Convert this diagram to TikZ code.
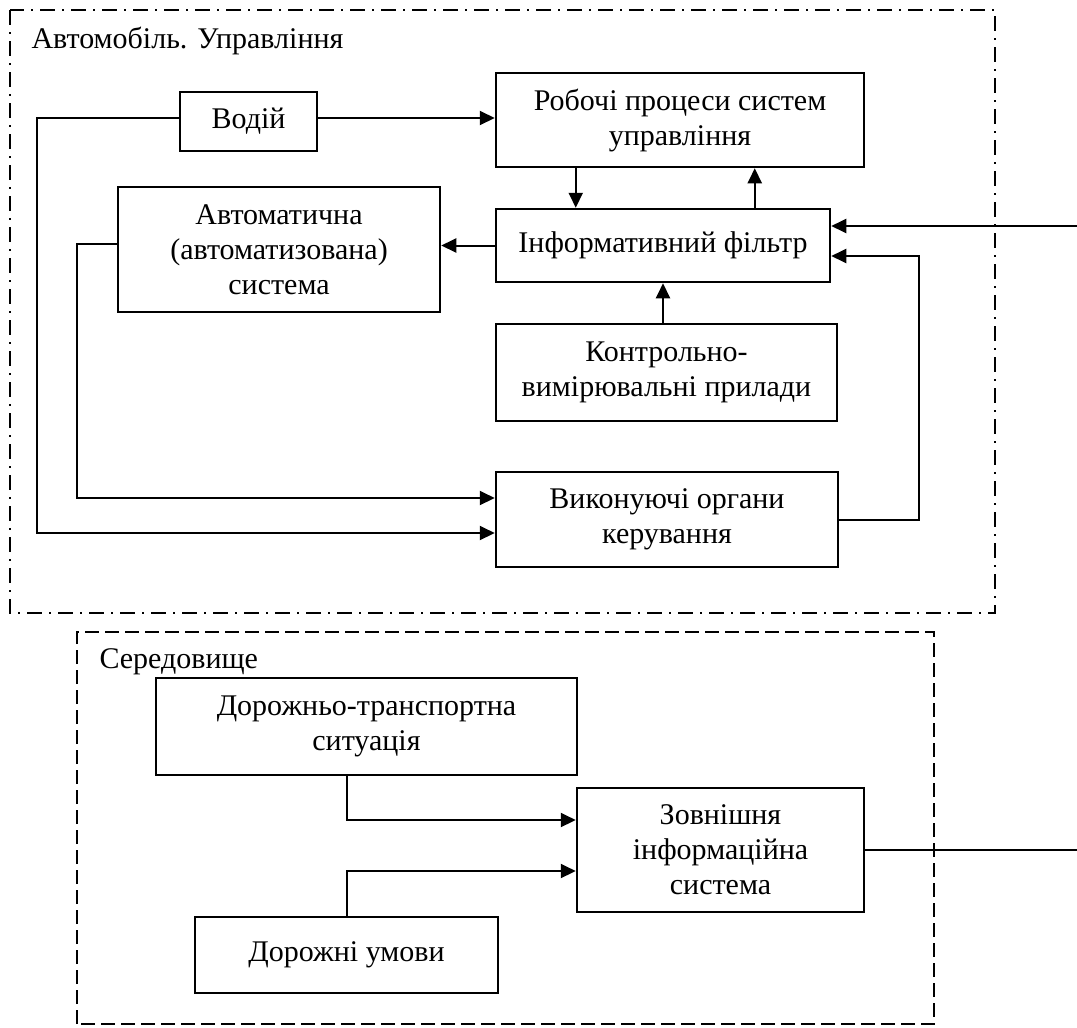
\documentclass[tikz,border=0pt]{standalone}
\usepackage{fontspec}
\setmainfont{Liberation Serif}
\usetikzlibrary{arrows.meta,calc}
\begin{document}
\begin{tikzpicture}[x=0.4pt, y=-0.4pt, font=\fontsize{12}{14}\selectfont, line join=miter,
    blk/.style={draw, line width=1pt, align=center, inner sep=0pt},
    arr/.style={line width=0.8pt, -{Triangle[length=6pt, width=5.6pt]}},
    lin/.style={line width=0.8pt},
    dashdot frame/.style={line width=1pt, dash pattern=on 6pt off 2.8pt on 0.8pt off 2.8pt},
    dash frame/.style={line width=1pt, dash pattern=on 5.6pt off 2.4pt}]
  \useasboundingbox (0,0) rectangle (1077,1027);
  % frames
  \draw[dashdot frame] (10,10) rectangle (995,613);
  \node[anchor=base west, inner sep=0pt] (auto) at (31,48) {Автомобіль. Управління};
  \draw[dash frame] (77,1024) -- (77,632) -- (934,632) -- (934,1024) -- cycle;
  \node[anchor=base west, inner sep=0pt] (sered) at (99,668) {Середовище};
  % blocks
  \node[blk, minimum width=54.8pt, minimum height=23.6pt] (vodii) at (248.5,121.5) {Водій};
  \node[blk, minimum width=147.2pt, minimum height=37.6pt] (robochi) at (680,120) {Робочі процеси систем\\управління};
  \node[blk, minimum width=133.6pt, minimum height=29.2pt] (filtr) at (663,245.5) {Інформативний фільтр};
  \node[blk, minimum width=128.8pt, minimum height=50pt] (avto) at (279,249.5) {Автоматична\\(автоматизована)\\система};
  \node[blk, minimum width=136.4pt, minimum height=38.8pt] (kvp) at (666.5,372.5) {Контрольно-\\вимірювальні прилади};
  \node[blk, minimum width=136.8pt, minimum height=38pt] (vyk) at (667,519.5) {Виконуючі органи\\керування};
  \node[blk, minimum width=168.4pt, minimum height=38.8pt] (dts) at (366.5,726.5) {Дорожньо-транспортна\\ситуація};
  \node[blk, minimum width=114.8pt, minimum height=49.6pt] (zovn) at (720.5,850) {Зовнішня\\інформаційна\\система};
  \node[blk, minimum width=121.2pt, minimum height=30.4pt] (umovy) at (346.5,955) {Дорожні умови};
  \coordinate (ext1) at (1077,226);
  \coordinate (ext2) at (1077,850);
  % connectors
  \draw[arr] ($(vodii.east)+(0,-3.5)$) coordinate (v1) -- (v1 -| robochi.west);
  \draw[arr] ($(vodii.west)+(0,-3.5)$) -- ++(-141.5,0) |- ($(vyk.west)+(0,13.5)$);
  \draw[arr] ($(avto.west)+(0,-5.5)$) -- ++(-40,0) |- ($(vyk.west)+(0,-21.5)$);
  \draw[arr] (filtr.west) -- (filtr.west -| avto.east);
  \draw[arr] ($(robochi.south west)+(81,0)$) coordinate (d1) -- (d1 |- filtr.north);
  \draw[arr] ($(filtr.north west)+(260,0)$) coordinate (u1) -- (u1 |- robochi.south);
  \draw[arr] (filtr.south |- kvp.north) -- (filtr.south);
  \draw[arr] (vyk.east) -- ++(80,0) |- ($(filtr.east)+(0,10.5)$);
  \draw[arr] (ext1) -- (ext1 -| filtr.east);
  \draw[arr] ($(dts.south)+(-19.5,0)$) |- ($(zovn.west)+(0,-30)$);
  \draw[arr] (umovy.north) |- ($(zovn.west)+(0,21)$);
  \draw[lin] (zovn.east) -- (ext2);
\end{tikzpicture}
\end{document}
